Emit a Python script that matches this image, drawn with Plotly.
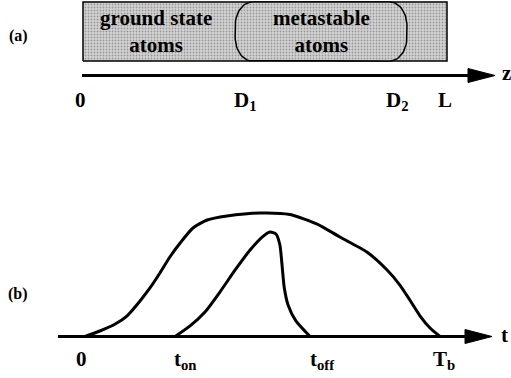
import numpy as np
import plotly.graph_objects as go

W, H = 511, 378

# ---------------- data ----------------
# (a) spatial layout along z (units of L)
z_labels = ["0", "D<sub>1</sub>", "D<sub>2</sub>", "L"]
z_values = [0.0, 0.418, 0.890, 1.0]
ground_label = "ground state<br>atoms"
meta_label = "metastable<br>atoms"

# (b) time signals (t in units of T_b, amplitude normalised)
t_labels = ["0", "t<sub>on</sub>", "t<sub>off</sub>", "T<sub>b</sub>"]
t_values = [0.0, 0.254, 0.634, 1.0]

total_t = [0.0, 0.042, 0.085, 0.118, 0.155, 0.183, 0.211, 0.239, 0.268, 0.304,
           0.344, 0.400, 0.493, 0.577, 0.654, 0.718, 0.794, 0.851, 0.887, 0.915,
           0.944, 0.972, 1.0]
total_a = [0.0, 0.045, 0.102, 0.167, 0.290, 0.396, 0.518, 0.649, 0.763, 0.886,
           0.951, 0.984, 1.008, 0.996, 0.918, 0.812, 0.690, 0.543, 0.420, 0.298,
           0.167, 0.069, 0.0]

meta_t = [0.254, 0.296, 0.338, 0.380, 0.423, 0.465, 0.499, 0.521, 0.538, 0.549,
          0.555, 0.561, 0.572, 0.594, 0.634]
meta_a = [0.0, 0.086, 0.200, 0.363, 0.543, 0.706, 0.812, 0.853, 0.837, 0.747,
          0.584, 0.404, 0.257, 0.127, 0.0]

# ---------------- layout helpers ----------------
def px_x(x):
    return x / W

def px_y(y):
    return 1 - y / H

def span(p0, p1, v0, v1, lo, hi):
    """axis range so that value v0 sits at pixel p0 and v1 at pixel p1"""
    s = (v1 - v0) / (p1 - p0)
    return [v0 + (lo - p0) * s, v0 + (hi - p0) * s]

FONT = "Liberation Serif, Times New Roman, serif"
PATTERN = dict(shape=".", bgcolor="#d4d4d4", fgcolor="#5a5a5a", size=3, solidity=0.3)

fig = go.Figure()

# ----- panel (a) -----
def rounded(x0, x1, y0, y1, rx, ry, n=16):
    xs, ys = [], []
    corners = [((x1 - rx, y1 - ry), 90, 0), ((x1 - rx, y0 + ry), 0, -90),
               ((x0 + rx, y0 + ry), -90, -180), ((x0 + rx, y1 - ry), 180, 90)]
    for (cx, cy), a0, a1 in corners:
        a = np.radians(np.linspace(a0, a1, n))
        xs += list(cx + rx * np.cos(a))
        ys += list(cy + ry * np.sin(a))
    xs.append(xs[0]); ys.append(ys[0])
    return xs, ys

z0, zD1, zD2, zL = z_values
fig.add_trace(go.Scatter(x=[z0, zL, zL, z0, z0], y=[0, 0, 1, 1, 0], mode="lines",
                         fill="toself", fillcolor="#c4c4c4", fillpattern=PATTERN,
                         line=dict(color="black", width=1.5),
                         xaxis="x", yaxis="y", hoverinfo="skip"))
rxs, rys = rounded(zD1, zD2, 0, 1, 17 / 364, 24 / 59)
fig.add_trace(go.Scatter(x=rxs, y=rys, mode="lines", fill="toself",
                         fillcolor="#c4c4c4", fillpattern=PATTERN,
                         line=dict(color="black", width=1.5),
                         xaxis="x", yaxis="y", hoverinfo="skip"))

# ----- panel (b) -----
fig.add_trace(go.Scatter(x=total_t, y=total_a, mode="lines",
                         line=dict(color="black", width=3, shape="spline", smoothing=0.6),
                         xaxis="x2", yaxis="y2", hoverinfo="skip"))
fig.add_trace(go.Scatter(x=meta_t, y=meta_a, mode="lines",
                         line=dict(color="black", width=3, shape="spline", smoothing=0.6),
                         xaxis="x2", yaxis="y2", hoverinfo="skip"))

# ----- axes arrows (decoration) -----
shapes = []
def arrow(x_start, x_base, x_tip, y, half=7):
    shapes.append(dict(type="line", xref="paper", yref="paper",
                       x0=px_x(x_start), x1=px_x(x_base + 2), y0=px_y(y), y1=px_y(y),
                       line=dict(color="black", width=3)))
    path = (f"M {px_x(x_base)} {px_y(y - half)} L {px_x(x_tip)} {px_y(y)} "
            f"L {px_x(x_base)} {px_y(y + half)} Z")
    shapes.append(dict(type="path", xref="paper", yref="paper", path=path,
                       fillcolor="black", line=dict(color="black", width=1)))

arrow(82, 468, 495, 75.5)
arrow(58, 465, 492, 336.5)

# ----- text -----
ann = []
def txt(text, x, y, size=20, xref="paper", yref="paper", xshift=0, xanchor="center",
        yanchor="middle"):
    ann.append(dict(text=text, x=x, y=y, xref=xref, yref=yref,
                    xshift=xshift, showarrow=False, xanchor=xanchor, yanchor=yanchor,
                    font=dict(family=FONT, size=size, color="black", weight="bold")))

txt(ground_label, (z0 + zD1) / 2, 0.5, size=21, xref="x", yref="y", xshift=-3)
txt(meta_label, (zD1 + zD2) / 2, 0.5, size=21, xref="x", yref="y", xshift=0)
txt("(a)", px_x(18), px_y(36), size=16)
txt("(b)", px_x(18), px_y(294), size=16)
txt("z", px_x(506), px_y(73), size=21)
txt("t", px_x(504), px_y(335), size=21)

z_shift = [-3, 10, -9, -2]
for lab, v, s in zip(z_labels, z_values, z_shift):
    txt(lab, v, px_y(86), size=21, xref="x", xshift=s, yanchor="top")
t_shift = [-4, 10, 12, 4]
for lab, v, s in zip(t_labels, t_values, t_shift):
    txt(lab, v, px_y(345), size=21, xref="x2", xshift=s, yanchor="top")

hidden = dict(visible=False, showgrid=False, zeroline=False, fixedrange=True)
fig.update_layout(
    width=W, height=H, margin=dict(l=0, r=0, t=0, b=0),
    paper_bgcolor="white", plot_bgcolor="white", showlegend=False,
    xaxis=dict(range=span(83, 447, 0, 1, 0, W), domain=[0, 1], **hidden),
    yaxis=dict(range=span(H - 61, H - 2, 0, 1, 0, H), domain=[0, 1], **hidden),
    xaxis2=dict(range=span(85, 440, 0, 1, 0, W), domain=[0, 1], overlaying="x",
                anchor="y2", **hidden),
    yaxis2=dict(range=span(H - 336.5, H - 214, 0, 1, 0, H), domain=[0, 1],
                overlaying="y", anchor="x2", **hidden),
    shapes=shapes, annotations=ann,
)

fig.write_html("out.html")
